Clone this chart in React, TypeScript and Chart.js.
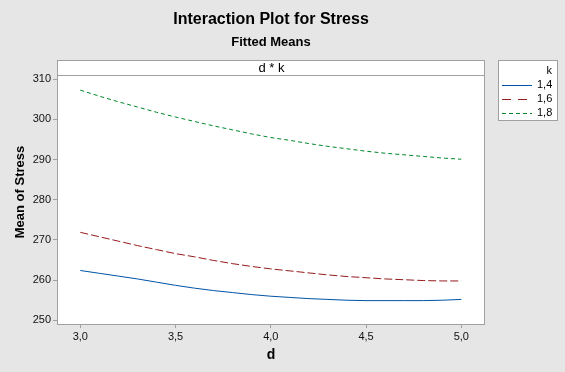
import React, { useEffect, useRef } from "react";
import { Chart, registerables } from "chart.js";

Chart.register(...registerables);

// ---- data ----
const dValues = [3.0, 3.1, 3.2, 3.3, 3.4, 3.5, 3.6, 3.7, 3.8, 3.9, 4.0, 4.1, 4.2, 4.3, 4.4, 4.5, 4.6, 4.7, 4.8, 4.9, 5.0];
const kLabels = ["1,4", "1,6", "1,8"];
const stressK14 = [262.4, 261.7, 261.0, 260.3, 259.5, 258.7, 258.0, 257.4, 256.9, 256.4, 256.0, 255.7, 255.4, 255.2, 255.0, 254.9, 254.9, 254.9, 254.9, 255.0, 255.2];
const stressK16 = [271.9, 270.8, 269.7, 268.6, 267.6, 266.6, 265.8, 264.9, 264.1, 263.4, 262.8, 262.3, 261.8, 261.3, 260.9, 260.6, 260.3, 260.1, 259.9, 259.8, 259.8];
const stressK18 = [307.3, 305.8, 304.4, 303.1, 301.8, 300.6, 299.5, 298.4, 297.4, 296.4, 295.5, 294.8, 294.0, 293.3, 292.7, 292.1, 291.6, 291.2, 290.8, 290.4, 290.1];
const xTickValues = [3.0, 3.5, 4.0, 4.5, 5.0];
const yTickValues = [250, 260, 270, 280, 290, 300, 310];

const FONT = "'Liberation Sans', Arial, sans-serif";
const colors = ["#0054a6", "#951b1e", "#00882b"];
const plotDash = [[], [8, 3], [4, 3]];
const legendDash = [[], [9, 7], [4, 3]];
const series = [stressK14, stressK16, stressK18];

const W = 565;
const H = 372;
const FRAME = { left: 57, top: 60, right: 484, bottom: 324, strip: 75 };

const decor = {
  id: "decor",
  beforeDraw(chart: any) {
    const ctx = chart.ctx;
    ctx.save();
    ctx.fillStyle = "#e6e6e6";
    ctx.fillRect(0, 0, W, H);
    ctx.fillStyle = "#ffffff";
    ctx.fillRect(FRAME.left, FRAME.top, FRAME.right - FRAME.left, FRAME.bottom - FRAME.top);
    ctx.restore();
  },
  afterDatasetsDraw(chart: any) {
    const ctx = chart.ctx;
    ctx.save();
    ctx.strokeStyle = "#a0a0a0";
    ctx.lineWidth = 1;
    ctx.strokeRect(FRAME.left + 0.5, FRAME.top + 0.5, FRAME.right - FRAME.left, FRAME.bottom - FRAME.top);
    ctx.beginPath();
    ctx.moveTo(FRAME.left, FRAME.strip + 0.5);
    ctx.lineTo(FRAME.right + 1, FRAME.strip + 0.5);
    ctx.stroke();

    // titles
    ctx.fillStyle = "#000000";
    ctx.textAlign = "center";
    ctx.textBaseline = "middle";
    ctx.font = `bold 16px ${FONT}`;
    ctx.fillText("Interaction Plot for Stress", 271, 20);
    ctx.font = `bold 13px ${FONT}`;
    ctx.fillText("Fitted Means", 271, 42);
    ctx.font = `13px ${FONT}`;
    ctx.fillText("d * k", (FRAME.left + FRAME.right) / 2 + 1, 68);

    // axis titles
    ctx.font = `bold 14px ${FONT}`;
    ctx.fillText("d", 271, 355);
    ctx.save();
    ctx.translate(20, 192);
    ctx.rotate(-Math.PI / 2);
    ctx.font = `bold 13px ${FONT}`;
    ctx.fillText("Mean of Stress", 0, 0);
    ctx.restore();

    // legend
    ctx.fillStyle = "#ffffff";
    ctx.fillRect(498, 60, 60, 61);
    ctx.strokeStyle = "#a0a0a0";
    ctx.strokeRect(498.5, 60.5, 59, 60);
    ctx.fillStyle = "#000000";
    ctx.font = `11px ${FONT}`;
    ctx.textAlign = "right";
    ctx.fillText("k", 552, 71);
    const ys = [85, 98.5, 112.5];
    kLabels.forEach((lab, i) => {
      ctx.save();
      ctx.strokeStyle = colors[i];
      ctx.lineWidth = 1;
      ctx.setLineDash(legendDash[i]);
      ctx.beginPath();
      ctx.moveTo(502, Math.round(ys[i]) + 0.5);
      ctx.lineTo(532, Math.round(ys[i]) + 0.5);
      ctx.stroke();
      ctx.restore();
      ctx.textAlign = "left";
      ctx.fillText(lab, 537, ys[i]);
    });
    ctx.restore();
  },
};

export default function App() {
  const ref = useRef<HTMLCanvasElement | null>(null);

  useEffect(() => {
    document.body.style.margin = "0";
    document.body.style.background = "#e6e6e6";
    const canvas = ref.current;
    if (!canvas) return;
    const chart = new Chart(canvas, {
      type: "line",
      data: {
        datasets: series.map((vals, i) => ({
          label: kLabels[i],
          data: vals.map((v, j) => ({ x: dValues[j], y: v })),
          borderColor: colors[i],
          borderWidth: 1,
          borderDash: plotDash[i],
          pointRadius: 0,
          tension: 0,
          fill: false,
        })),
      },
      options: {
        responsive: false,
        animation: false,
        devicePixelRatio: 1,
        layout: { padding: { left: 0, top: 75, right: W - FRAME.right, bottom: 0 } },
        plugins: {
          legend: { display: false },
          title: { display: false },
          tooltip: { enabled: false },
        },
        scales: {
          x: {
            type: "linear",
            min: 2.8777,
            max: 5.1192,
            afterBuildTicks: (s: any) => {
              s.ticks = xTickValues.map((v) => ({ value: v }));
            },
            afterFit: (s: any) => {
              s.height = H - FRAME.bottom;
            },
            ticks: {
              autoSkip: false,
              maxRotation: 0,
              padding: 2,
              color: "#111111",
              font: { family: FONT, size: 11 },
              callback: (v: any) => Number(v).toFixed(1).replace(".", ","),
            },
            grid: { display: true, drawOnChartArea: false, drawTicks: true, tickLength: 4, color: "#a0a0a0" },
            border: { display: false },
          },
          y: {
            type: "linear",
            min: 249.08,
            max: 311.07,
            afterBuildTicks: (s: any) => {
              s.ticks = yTickValues.map((v) => ({ value: v }));
            },
            afterFit: (s: any) => {
              s.width = FRAME.left;
            },
            ticks: {
              autoSkip: false,
              padding: 2,
              color: "#111111",
              font: { family: FONT, size: 11 },
              callback: (v: any) => String(v),
            },
            grid: { display: true, drawOnChartArea: false, drawTicks: true, tickLength: 4, color: "#a0a0a0" },
            border: { display: false },
          },
        },
      },
      plugins: [decor],
    } as any);
    return () => chart.destroy();
  }, []);

  return <canvas ref={ref} width={W} height={H} style={{ display: "block", width: W, height: H }} />;
}
